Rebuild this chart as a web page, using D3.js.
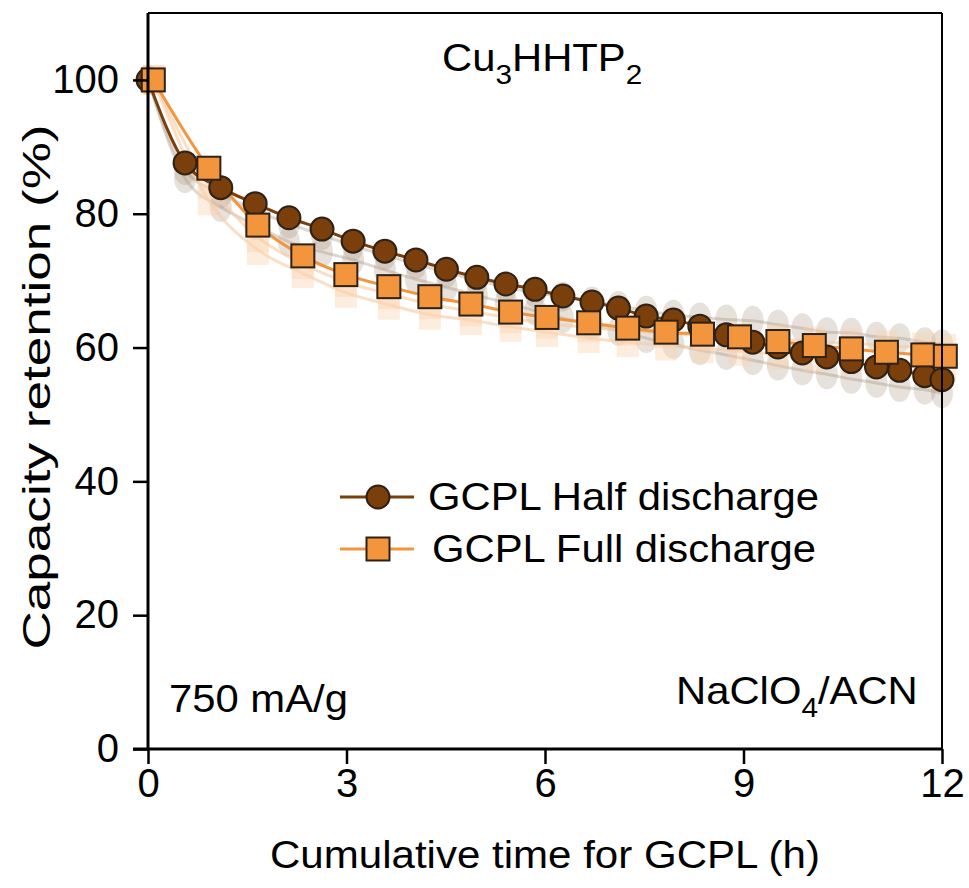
<!DOCTYPE html>
<html>
<head>
<meta charset="utf-8">
<script src="https://cdn.jsdelivr.net/npm/d3@7"></script>
<style>
  body { margin: 0; background: #fff; }
  text { font-family: "Liberation Sans", Arial, sans-serif; fill: #000; }
</style>
</head>
<body>
<div id="chart-area"></div>
<script>

// ---- data ----
var halfTime = [0, 0.56, 1.10, 1.62, 2.13, 2.63, 3.10, 3.58, 4.05, 4.51, 4.97, 5.41, 5.85, 6.27, 6.71,
  7.11, 7.53, 7.94, 8.34, 8.74, 9.14, 9.52, 9.89, 10.26, 10.63, 11.01, 11.36, 11.74, 12.0];
var halfRet = [100, 87.6, 83.9, 81.5, 79.4, 77.7, 75.9, 74.4, 73.1, 71.7, 70.5, 69.5, 68.7, 67.7, 66.8,
  65.9, 64.7, 64.1, 63.2, 61.9, 60.8, 60.1, 59.2, 58.6, 57.9, 57.1, 56.6, 55.8, 55.2];

var fullTime = [0.08, 0.92, 1.66, 2.34, 2.99, 3.64, 4.26, 4.88, 5.48, 6.03, 6.66, 7.25, 7.83, 8.38,
  8.94, 9.52, 10.07, 10.63, 11.16, 11.71, 12.05];
var fullRet = [100, 86.8, 78.3, 73.7, 70.9, 69.1, 67.6, 66.5, 65.3, 64.5, 63.7, 62.9, 62.3, 62.0,
  61.6, 60.9, 60.3, 59.8, 59.3, 58.9, 58.7];

// faded repeat measurements behind the main curves
var halfRepA = [100, 86.5, 83.0, 80.5, 78.5, 76.8, 75.2, 73.8, 72.5, 71.2, 70.1, 69.0, 68.2, 67.6, 66.9,
  66.2, 65.5, 64.9, 64.5, 64.2, 64.0, 63.4, 62.9, 62.3, 62.2, 61.6, 61.4, 60.8, 60.5];
var halfRepB = [100, 85.3, 81.0, 78.3, 75.8, 74.3, 73.1, 71.6, 70.2, 69.0, 67.8, 66.7, 65.5, 64.4, 63.4,
  62.5, 61.4, 60.5, 59.6, 58.9, 58.1, 57.3, 56.6, 56.0, 55.3, 54.7, 54.1, 53.7, 53.2];
var fullRepA = [100, 82.0, 74.6, 71.1, 68.2, 66.4, 64.9, 64.1, 63.1, 62.3, 61.4, 60.8, 60.3, 59.9,
  59.5, 59.0, 58.6, 58.2, 57.8, 57.4, 57.1];
var fullRepB = [100, 84.5, 76.5, 72.5, 69.8, 68.0, 66.5, 65.4, 64.4, 63.6, 63.0, 62.5, 62.1, 61.8,
  61.5, 61.2, 60.9, 60.6, 60.3, 60.0, 59.8];

var xTicks = [0, 3, 6, 9, 12];
var yTicks = [0, 20, 40, 60, 80, 100];
var seriesNames = ["GCPL Half discharge", "GCPL Full discharge"];

// ---- layout ----
var W = 969, H = 888;
var margin = {top: 13, right: 27, bottom: 139, left: 148};
var width = W - margin.left - margin.right,
    height = H - margin.top - margin.bottom;

var brown = "#7b3f0c", orange = "#f2953c", edge = "#2e2116";
var sx = 1.1; // text in the figure is a bit wider than plain Arial

var svg = d3.select("#chart-area").append("svg")
    .attr("width", W)
    .attr("height", H);

var g = svg.append("g")
    .attr("transform", "translate(" + margin.left + "," + margin.top + ")");

var x = d3.scaleLinear().domain([0, 12]).range([0, width]);
var y = d3.scaleLinear().domain([0, 110]).range([height, 0]);

function zip(t, v) {
  return t.map(function(d, i) { return {t: d, v: v[i]}; });
}

// text stretched horizontally, anchored at (px, py)
function wideText(px, py, size) {
  return svg.append("g")
    .attr("transform", "translate(" + px + "," + py + ") scale(" + sx + ",1)")
    .append("text").attr("font-size", size);
}

var line = d3.line()
    .x(function(d) { return x(d.t); })
    .y(function(d) { return y(d.v); })
    .curve(d3.curveMonotoneX);

// faded repeats
var fade = g.append("g");
[halfRepA, halfRepB].forEach(function(vals) {
  var pts = zip(halfTime, vals);
  fade.append("path").attr("d", line(pts))
    .attr("fill", "none").attr("stroke", "#b9a89a").attr("stroke-width", 3).attr("opacity", 0.45);
  fade.selectAll(null).data(pts).enter().append("ellipse")
    .attr("cx", function(d) { return x(d.t); })
    .attr("cy", function(d) { return y(d.v); })
    .attr("rx", 11).attr("ry", 15)
    .attr("fill", "#a08670").attr("opacity", 0.25);
});
[fullRepA, fullRepB].forEach(function(vals) {
  var pts = zip(fullTime, vals);
  fade.append("path").attr("d", line(pts))
    .attr("fill", "none").attr("stroke", "#f6c9a0").attr("stroke-width", 3).attr("opacity", 0.6);
  fade.selectAll(null).data(pts).enter().append("rect")
    .attr("x", function(d) { return x(d.t) - 11; })
    .attr("y", function(d) { return y(d.v) - 15; })
    .attr("width", 22).attr("height", 30)
    .attr("fill", "#fbd3ad").attr("opacity", 0.4);
});

// main curves
var half = zip(halfTime, halfRet), full = zip(fullTime, fullRet);

g.append("path").attr("d", line(full))
  .attr("fill", "none").attr("stroke", orange).attr("stroke-width", 3);
g.append("path").attr("d", line(half))
  .attr("fill", "none").attr("stroke", brown).attr("stroke-width", 3);

g.selectAll(".circ").data(half).enter().append("circle")
  .attr("class", "circ")
  .attr("cx", function(d) { return x(d.t); })
  .attr("cy", function(d) { return y(d.v); })
  .attr("r", 11.5)
  .attr("fill", brown).attr("stroke", edge).attr("stroke-width", 2);

g.selectAll(".sq").data(full).enter().append("rect")
  .attr("class", "sq")
  .attr("x", function(d) { return x(d.t) - 11.5; })
  .attr("y", function(d) { return y(d.v) - 11.5; })
  .attr("width", 23).attr("height", 23)
  .attr("fill", orange).attr("stroke", edge).attr("stroke-width", 2);

// frame (top + right)
g.append("line").attr("x1", 0).attr("x2", width).attr("y1", 0).attr("y2", 0)
  .attr("stroke", "#000").attr("stroke-width", 2);
g.append("line").attr("x1", width).attr("x2", width).attr("y1", 0).attr("y2", height)
  .attr("stroke", "#000").attr("stroke-width", 2);

// axes
var xAxis = d3.axisBottom(x).tickValues(xTicks).tickSize(15).tickPadding(5).tickSizeOuter(0);
var yAxis = d3.axisLeft(y).tickValues(yTicks).tickSize(15).tickPadding(14).tickSizeOuter(0);

var gx = g.append("g").attr("transform", "translate(0," + height + ")").call(xAxis);
var gy = g.append("g").call(yAxis);

[gx, gy].forEach(function(a) {
  a.select(".domain").attr("stroke-width", 3);
  a.selectAll(".tick line").attr("stroke-width", 2.5);
  a.selectAll(".tick text").attr("font-size", 40).attr("font-family", "Liberation Sans, Arial, sans-serif");
});
gy.select(".domain").attr("d", "M0,0V" + height);
gx.select(".domain").attr("d", "M-15,0H" + width);

// axis titles
svg.append("text")
  .attr("x", margin.left + width / 2).attr("y", 868)
  .attr("text-anchor", "middle").attr("font-size", 38)
  .attr("textLength", 550).attr("lengthAdjust", "spacingAndGlyphs")
  .text("Cumulative time for GCPL (h)");

svg.append("text")
  .attr("transform", "translate(50,387) rotate(-90)")
  .attr("text-anchor", "middle").attr("font-size", 38)
  .attr("textLength", 525).attr("lengthAdjust", "spacingAndGlyphs")
  .text("Capacity retention (%)");

// annotations
var t1 = wideText(442, 71, 38);
t1.append("tspan").text("Cu");
t1.append("tspan").attr("font-size", 27).attr("dy", 13).text("3");
t1.append("tspan").attr("dy", -13).text("HHTP");
t1.append("tspan").attr("font-size", 27).attr("dy", 13).text("2");

wideText(169, 712, 38).text("750 mA/g");

var t2 = wideText(676, 704, 38);
t2.append("tspan").text("NaClO");
t2.append("tspan").attr("font-size", 27).attr("dy", 13).text("4");
t2.append("tspan").attr("dy", -13).text("/ACN");

// legend
var legend = svg.append("g");
var legY = [497, 549];
legend.append("line").attr("x1", 340).attr("x2", 414).attr("y1", legY[0]).attr("y2", legY[0])
  .attr("stroke", brown).attr("stroke-width", 3);
legend.append("circle").attr("cx", 378).attr("cy", legY[0]).attr("r", 11.5)
  .attr("fill", brown).attr("stroke", edge).attr("stroke-width", 2);
legend.append("line").attr("x1", 340).attr("x2", 414).attr("y1", legY[1]).attr("y2", legY[1])
  .attr("stroke", orange).attr("stroke-width", 3);
legend.append("rect").attr("x", 378 - 11.5).attr("y", legY[1] - 11.5).attr("width", 23).attr("height", 23)
  .attr("fill", orange).attr("stroke", edge).attr("stroke-width", 2);
seriesNames.forEach(function(d, i) {
  wideText(i === 0 ? 428 : 432, legY[i] + 13, 38).text(d);
});

</script>
</body>
</html>
